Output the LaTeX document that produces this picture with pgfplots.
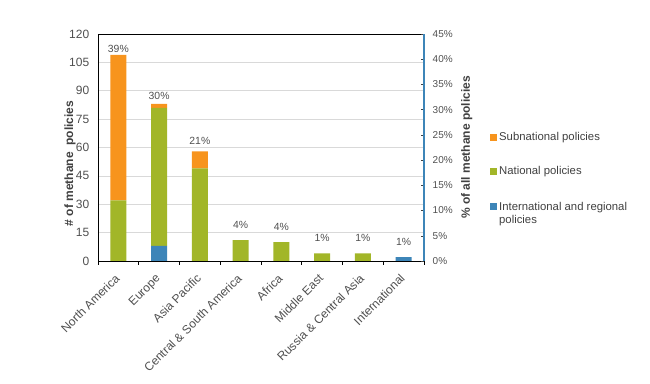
\documentclass[border=0pt]{standalone}
\usepackage{pgfplots}
\pgfplotsset{compat=1.18}
\usepackage{fontspec}
\setmainfont{Liberation Sans}
\definecolor{cOrange}{HTML}{F7941D}
\definecolor{cGreen}{HTML}{A2B628}
\definecolor{cBlue}{HTML}{3D85B8}
\definecolor{cText}{HTML}{505050}
\definecolor{cLab}{HTML}{404040}
\definecolor{cGrid}{HTML}{D9D9D9}
\begin{document}
\begin{tikzpicture}
\path[use as bounding box] (-73.5pt,-92.25pt) rectangle (414pt,195.75pt);
\begin{axis}[
  scale only axis, width=244.5pt, height=170.25pt,
  ybar stacked, bar width=12pt,
  xmin=-0.5, xmax=7.5, ymin=0, ymax=120,
  xtick={0,...,7},
  xticklabels={North America, Europe, Asia Pacific, Central \& South America, Africa, Middle East, Russia \& Central Asia, International},
  major x tick style={draw=none},
  minor xtick={-0.5,0.5,...,7.5},
  minor x tick style={black, thin},
  minor tick length=3pt,
  tick align=outside,
  xtick pos=bottom, ytick pos=left,
  ytick={0,15,...,120},
  major y tick style={draw=none},
  ymajorgrids, grid style={cGrid, thin},
  axis line style={black, thin},
  /pgf/number format/assume math mode=true,
  yticklabel style={font=\fontsize{9}{10}\selectfont, text=cText, xshift=1.2pt},
  xticklabel style={font=\fontsize{9}{10}\selectfont, text=cText, rotate=45, anchor=north east, inner sep=1pt, xshift=-4.5pt},
  ylabel={\# of methane \ policies},
  every axis y label/.style={at={(axis description cs:-0.0859,0.43)}, rotate=90, anchor=center,
    font=\bfseries\fontsize{9}{10}\selectfont, text=cLab},
  legend style={at={(axis description cs:1.202,0.58)}, anchor=north west, draw=none, fill=none,
    font=\fontsize{8.5}{10}\selectfont, text=cLab, row sep=14pt, inner sep=0pt},
  legend cell align=left,
  reverse legend,
  area legend,
]
\addplot[fill=cBlue, draw=none, legend image code/.code={\fill[cBlue] (0pt,-2.4pt) rectangle (4.8pt,2.4pt);}]
  coordinates {(0,0) (1,8) (2,0) (3,0) (4,0) (5,0) (6,0) (7,2)};
\addlegendentry{\begin{tabular}[t]{@{}l@{}}International and regional\\policies\end{tabular}}
\addplot[fill=cGreen, draw=none, legend image code/.code={\fill[cGreen] (0pt,-2.4pt) rectangle (4.8pt,2.4pt);}]
  coordinates {(0,32) (1,73) (2,49) (3,11) (4,10) (5,4) (6,4) (7,0)};
\addlegendentry{National policies}
\addplot[fill=cOrange, draw=none, legend image code/.code={\fill[cOrange] (0pt,-2.4pt) rectangle (4.8pt,2.4pt);}]
  coordinates {(0,77) (1,2) (2,9) (3,0) (4,0) (5,0) (6,0) (7,0)};
\addlegendentry{Subnational policies}
\end{axis}
\begin{axis}[
  scale only axis, width=244.5pt, height=170.25pt,
  xmin=-0.5, xmax=7.5, ymin=0, ymax=45,
  axis x line=none,
  axis y line*=right,
  axis line style={cBlue, line width=0.8pt},
  ytick={0,5,...,45},
  yticklabel={\pgfmathprintnumber{\tick}\%},
  tick align=inside,
  major tick length=2.5pt,
  ytick style={black!75, thin},
  /pgf/number format/assume math mode=true,
  yticklabel style={font=\fontsize{7.5}{10}\selectfont, text=cText, xshift=3pt},
  ylabel={\% of all methane policies},
  every axis y label/.style={at={(axis description cs:1.131,0.5)}, rotate=90, anchor=center,
    font=\bfseries\fontsize{9}{10}\selectfont, text=cLab},
]
\addplot[draw=none, mark=none, nodes near coords, point meta=explicit symbolic,
  every node near coord/.style={font=\fontsize{7.8}{10}\selectfont, text=cText, anchor=south, inner sep=0pt, yshift=9pt}]
  coordinates {(0,38.79)[39\%] (1,29.54)[30\%] (2,20.64)[21\%] (3,3.91)[4\%] (4,3.56)[4\%] (5,1.42)[1\%] (6,1.42)[1\%] (7,0.71)[1\%]};
\end{axis}
\end{tikzpicture}
\end{document}
